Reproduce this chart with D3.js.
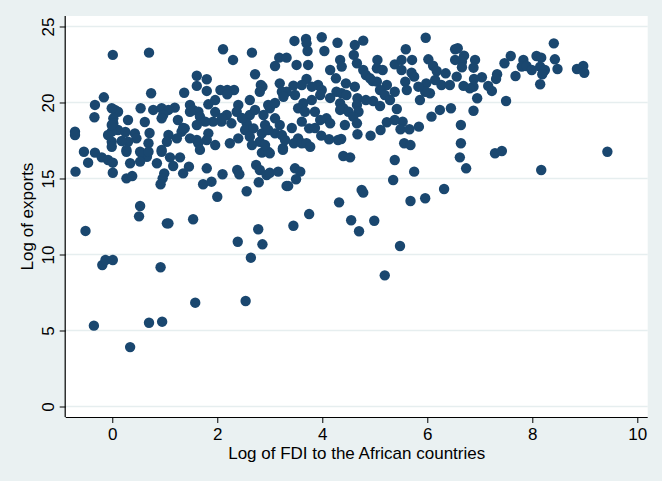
<!DOCTYPE html>
<html>
<head>
<meta charset="utf-8">
<script src="https://cdn.jsdelivr.net/npm/d3@7"></script>
<style>
  body { margin: 0; background: #eaf1f2; }
  svg text { font-family: "Liberation Sans", Arial, Helvetica, sans-serif; fill: #000; }
</style>
</head>
<body>
<div id="chart"></div>
<script>
// log of FDI (x) and log of exports (y)
const fdiLog = [
  -0.51,-0.19,-0.13,0.01,0.92,0.51,0.53,1.04,1.07,1.54,
  -0.70,-0.46,-0.54,-0.33,-0.20,-0.08,0.01,0.01,0.27,0.34,
  0.27,0.38,0.56,0.66,0.53,0.85,0.94,0.99,0.96,0.92,
  1.10,1.29,1.16,1.35,1.46,1.80,1.73,1.89,2.00,2.10,
  2.38,2.42,2.56,2.74,2.81,2.79,2.85,2.78,2.39,2.86,2.64,
  -0.35,0.34,0.70,0.95,1.58,2.54,
  3.00,3.25,4.40,4.53,5.38,6.62,2.94,3.00,3.16,3.48,
  3.58,3.50,3.32,3.35,5.75,5.35,4.75,4.78,4.32,5.68,
  5.96,6.32,3.75,3.45,4.55,4.99,4.70,5.48,5.19,
  6.74,7.29,7.42,8.17,9.43,
  8.41,8.43,8.48,8.85,8.97,8.99,8.08,8.17,8.15,8.21,
  8.24,8.19,8.15,7.83,7.80,7.89,7.99,7.68,7.59,7.47,
  7.33,7.31,7.16,7.23,7.50,6.95,6.88,6.64,6.64,7.04,
  6.89,6.88,6.81,6.69,6.91,6.88,6.70,6.58,6.66,6.66,6.56,
  3.47,3.69,3.70,3.99,4.29,4.78,4.62,5.97,5.59,3.72,
  4.04,4.60,3.18,3.32,3.10,3.51,3.73,4.34,4.37,4.66,
  5.05,5.04,4.78,4.83,4.96,5.15,5.38,5.51,5.71,5.51,
  5.70,5.75,6.02,6.11,6.18,6.35,6.53,6.53,6.27,6.15,
  5.98,6.05,5.96,5.83,5.58,5.61,5.38,5.23,5.10,5.19,
  5.04,4.91,4.26,4.45,4.62,4.27,4.37,4.46,3.70,3.92,
  3.99,3.96,3.80,3.61,3.45,3.48,3.32,3.19,3.23,3.26,
  2.86,3.64,3.54,3.67,3.86,4.08,4.15,4.34,4.40,4.34,
  4.50,4.67,4.66,4.69,4.59,4.66,4.97,5.42,6.08,6.24,
  6.45,5.23,5.11,4.92,5.53,5.49,5.66,5.84,5.56,5.68,
  4.67,4.36,4.30,4.13,3.98,3.75,3.61,3.54,3.46,3.61,
  3.70,3.77,3.25,2.97,3.10,3.23,3.19,3.10,3.00,2.97,
  2.88,2.91,2.81,
  0.01,0.70,2.11,2.30,2.66,2.72,1.61,1.80,1.61,1.80,
  0.74,1.37,2.06,2.19,2.32,2.19,2.83,2.81,-0.16,-0.33,
  -0.34,1.83,1.19,0.54,0.78,0.94,1.07,0.97,0.94,1.48,
  1.54,1.64,1.67,1.48,2.40,2.37,2.18,2.27,2.08,1.92,
  1.77,1.61,1.38,1.32,2.62,2.72,2.56,2.53,2.69,
  2.85,2.62,2.40,2.24,2.66,1.83,1.80,1.61,1.64,1.48,
  1.07,1.23,1.04,0.94,0.69,0.53,0.69,0.43,0.46,0.30,
  0.18,0.27,0.11,-0.01,-0.08,-0.01,-0.01,0.05,0.11,-0.01,
  0.02,0.02,-0.01,-0.71,-0.71,
  1.35,1.96,2.09,2.47,2.97,3.29,3.42,3.80,4.15,4.43,
  4.83,5.10,5.29,5.86,5.38,3.86,3.96,2.62,1.96,1.25,
  0.62,0.30,0.25,0.71,1.67,1.96,2.91,3.10,4.15,6.43
];

const exportsLog = [
  11.55,9.31,9.64,9.64,9.16,12.51,13.19,12.05,12.05,12.32,
  15.45,16.04,16.76,16.70,16.39,16.22,16.04,15.38,16.76,16.00,
  15.01,15.16,16.66,16.43,16.11,16.00,16.76,15.34,15.01,14.62,
  16.39,16.39,15.82,15.34,15.78,15.67,14.62,14.79,13.80,15.28,
  15.56,15.28,14.16,15.89,15.56,14.75,16.70,11.66,10.84,10.67,9.79,
  5.32,3.91,5.51,5.58,6.83,6.94,
  16.66,16.88,16.48,16.39,16.22,16.39,15.23,15.38,15.45,15.67,
  15.45,14.95,14.51,14.51,15.45,14.90,14.24,14.07,13.43,13.52,
  13.70,14.31,12.66,11.89,12.25,12.22,11.53,10.56,8.63,
  15.67,16.66,16.81,15.56,16.76,
  23.89,22.84,22.20,22.20,22.40,21.96,23.06,22.95,22.36,22.03,
  22.14,21.86,21.20,22.80,22.36,22.40,22.14,21.74,23.06,22.58,
  21.86,21.55,21.09,20.76,20.10,20.28,19.46,18.52,17.32,21.66,
  21.55,21.04,20.93,21.09,22.80,22.29,23.08,23.57,22.68,22.32,21.70,
  24.05,24.18,23.89,24.29,23.93,24.07,23.78,24.26,23.50,23.39,
  23.39,23.13,22.95,22.95,22.40,22.47,22.47,22.80,22.36,22.58,
  22.80,22.25,22.14,21.81,21.41,22.14,22.51,22.80,22.80,22.14,
  21.96,21.70,22.84,22.42,22.07,21.92,23.50,22.80,21.15,21.48,
  21.26,20.61,20.71,21.04,21.37,20.82,20.71,21.15,20.82,20.49,
  21.37,21.59,21.59,21.26,21.04,20.71,20.61,20.49,21.55,21.15,
  20.82,20.49,21.04,21.15,21.11,20.49,20.71,21.26,20.71,20.38,
  21.04,19.95,19.62,19.39,19.39,18.96,18.63,19.95,19.62,19.51,
  19.39,20.28,19.84,19.39,19.07,18.63,20.10,19.57,19.07,19.51,
  19.62,18.70,18.19,17.82,18.74,18.24,18.24,18.41,17.32,17.20,
  17.91,17.60,17.53,17.58,17.82,18.30,18.74,17.64,17.32,17.32,
  17.32,17.09,16.99,16.76,17.97,17.86,18.52,18.96,19.62,19.84,
  19.18,18.52,17.42,
  23.13,23.28,23.50,22.80,23.28,21.86,21.76,21.53,21.09,20.76,
  20.61,20.64,20.82,20.82,20.82,20.54,21.15,20.71,20.34,19.84,
  19.03,19.88,19.66,19.62,19.51,19.62,19.51,19.18,18.96,19.84,
  19.51,19.39,19.07,19.39,19.84,19.39,19.18,18.63,18.74,18.74,
  18.74,18.52,18.30,18.08,19.18,19.51,18.63,18.19,18.30,
  17.97,17.75,17.64,17.32,17.20,17.97,17.53,17.53,17.32,17.64,
  17.86,17.64,17.42,16.88,17.32,16.76,16.76,17.97,17.64,17.42,
  17.47,16.88,18.19,18.08,17.86,17.42,17.09,19.51,19.39,19.62,
  18.96,18.63,18.52,18.08,17.86,
  18.32,19.37,18.98,18.98,18.19,17.53,18.32,20.16,20.30,18.52,
  20.16,19.77,20.16,20.16,18.85,18.32,18.85,20.16,20.16,18.85,
  18.72,18.85,18.06,17.99,16.88,17.20,17.20,19.97,22.14,21.15
];

const xTicks = [0, 2, 4, 6, 8, 10];
const yTicks = [0, 5, 10, 15, 20, 25];
const xTitle = "Log of FDI to the African countries";
const yTitle = "Log of exports";

const width = 662;
const height = 481;
const plot = {left: 65.7, right: 647.7, top: 16, bottom: 417};

const x = d3.scaleLinear()
            .domain([-0.887, 10.198])
            .range([plot.left, plot.right]);
const y = d3.scaleLinear()
            .domain([-0.69, 25.69])
            .range([plot.bottom, plot.top]);

const svg = d3.select('#chart')
              .append('svg')
              .attr('width', width)
              .attr('height', height)
              .attr('viewBox', [0, 0, width, height]);

svg.append('rect')
   .attr('width', width)
   .attr('height', height)
   .attr('fill', '#eaf1f2');

svg.append('rect')
   .attr('x', plot.left)
   .attr('y', plot.top)
   .attr('width', plot.right - plot.left)
   .attr('height', plot.bottom - plot.top)
   .attr('fill', '#ffffff');

// horizontal grid
svg.append('g')
   .selectAll('line')
   .data(yTicks)
   .join('line')
   .attr('x1', plot.left)
   .attr('x2', plot.right)
   .attr('y1', d => y(d))
   .attr('y2', d => y(d))
   .attr('stroke', '#e6eeef')
   .attr('stroke-width', 1.3);

// points
svg.append('g')
   .selectAll('circle')
   .data(d3.zip(fdiLog, exportsLog))
   .join('circle')
   .attr('cx', d => x(d[0]))
   .attr('cy', d => y(d[1]))
   .attr('r', 5.2)
   .attr('fill', '#1a476f');

// axes
const xAxis = svg.append('g')
   .attr('transform', `translate(0,${plot.bottom})`)
   .call(d3.axisBottom(x).tickValues(xTicks).tickSize(6).tickPadding(4).tickFormat(d3.format('d')));
xAxis.select('.domain')
     .attr('d', `M${plot.left},0.5H${plot.right}`)
     .attr('stroke-width', 1.2);
xAxis.selectAll('text')
     .attr('font-size', 17)
     .attr('dy', '0.78em');

const yAxis = svg.append('g')
   .attr('transform', `translate(${plot.left},0)`)
   .call(d3.axisLeft(y).tickValues(yTicks).tickSize(6).tickFormat(d3.format('d')));
yAxis.select('.domain')
     .attr('d', `M-0.5,${plot.top}V${plot.bottom}`)
     .attr('stroke-width', 1.2);
yAxis.selectAll('text')
     .attr('font-size', 17)
     .attr('x', 0)
     .attr('dy', 0)
     .attr('text-anchor', 'middle')
     .attr('transform', 'translate(-12,0) rotate(-90)');
svg.selectAll('.domain, .tick line').attr('stroke', '#000');
svg.selectAll('.tick text').attr('font-family', '"Liberation Sans", Arial, sans-serif');

// titles, centred on the plot region
svg.append('text')
   .attr('x', (plot.left + plot.right) / 2)
   .attr('y', 459)
   .attr('text-anchor', 'middle')
   .attr('font-size', 17)
   .text(xTitle);

svg.append('text')
   .attr('transform', `translate(33,${(plot.top + plot.bottom) / 2}) rotate(-90)`)
   .attr('text-anchor', 'middle')
   .attr('font-size', 17)
   .text(yTitle);
</script>
</body>
</html>
